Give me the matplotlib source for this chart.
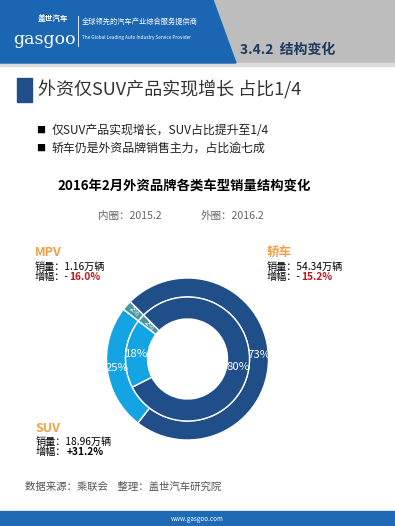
import matplotlib
matplotlib.use("Agg")
import matplotlib.pyplot as plt
from matplotlib.patches import Rectangle, Polygon

plt.rcParams['font.family'] = ['Noto Sans CJK SC', 'DejaVu Sans']

# 数据
categories = ['轿车', 'SUV', 'MPV']
share_2016 = [73, 25, 2]      # 外圈
share_2015 = [80, 18, 2]      # 内圈
sales_2016 = [54.34, 18.96, 1.16]
growth = [-15.2, 31.2, -16.0]
bullets = ['仅SUV产品实现增长，SUV占比提升至1/4', '轿车仍是外资品牌销售主力，占比逾七成']

colors = ['#1f4e89', '#14a3e3', '#4b96a6']

W, H = 395, 526
fig = plt.figure(figsize=(W / 100, H / 100), dpi=100)
bg = fig.add_axes([0, 0, 1, 1])
bg.set_xlim(0, W)
bg.set_ylim(H, 0)
bg.axis('off')

# 页眉
bg.add_patch(Rectangle((0, 0), W, 63, color='#bdbdbd', zorder=0))
bg.add_patch(Polygon([(0, 0), (213, 0), (236, 63), (0, 63)], closed=True, color='#1b66b3', zorder=1))
bg.add_patch(Rectangle((0, 63), W, 3, color='#dcdcdc', zorder=0))
bg.text(13, 40, 'gasgoo', color='white', fontsize=12.5, family='DejaVu Serif', va='center')
bg.text(38, 18, '盖世汽车', color='white', fontsize=5.5, fontweight='bold', va='center')
bg.plot([78, 78], [16, 46], color='white', lw=0.6)
bg.text(82, 22, '全球领先的汽车产业综合服务提供商', color='white', fontsize=5.2, va='center')
bg.text(82, 38, 'The Global Leading Auto Industry Service Provider', color='white', fontsize=3.4, va='center')
bg.text(240, 50, '3.4.2  结构变化', color='#1e3a5f', fontsize=10, fontweight='bold', va='center')

# 标题
bg.add_patch(Rectangle((17, 78), 15, 24, color='#1f4e89'))
bg.text(38, 90, '外资仅SUV产品实现增长 占比1/4', fontsize=13, color='#333333', va='center')

for i, b in enumerate(bullets):
    y = 130 + i * 18
    bg.text(36, y, '■', fontsize=6.5, va='center')
    bg.text(52, y, b, fontsize=8.6, color='#222222', va='center')

bg.text(184, 187, '2016年2月外资品牌各类车型销量结构变化', fontsize=9.6, fontweight='bold',
        ha='center', va='center')
bg.text(98, 216, '内圈：2015.2', fontsize=7.6, color='#666666', style='italic', va='center')
bg.text(201, 216, '外圈：2016.2', fontsize=7.6, color='#666666', style='italic', va='center')

# 环形图
cx, cy, R = 187.5, 359, 81
half = 95
pie_ax = fig.add_axes([(cx - half) / W, 1 - (cy + half) / H, 2 * half / W, 2 * half / H])
w_out, t_out, a_out = pie_ax.pie(share_2016, radius=R, colors=colors, startangle=135, counterclock=False,
                                 autopct=lambda p: f'{p:.0f}%', pctdistance=0.88,
                                 wedgeprops=dict(width=19, edgecolor='white', linewidth=1))
w_in, t_in, a_in = pie_ax.pie(share_2015, radius=62, colors=colors, startangle=135, counterclock=False,
                              autopct=lambda p: f'{p:.0f}%', pctdistance=0.82,
                              wedgeprops=dict(width=22, edgecolor='white', linewidth=1))
for t in a_out + a_in:
    t.set_color('white')
    t.set_fontsize(8.2)
for t in (a_out[2], a_in[2]):
    t.set_fontsize(5.5)
    t.set_rotation(-45)
pie_ax.set_xlim(-half, half)
pie_ax.set_ylim(-half, half)
pie_ax.axis('off')

# 各车型注释
label_pos = {'MPV': (35, 253), '轿车': (267, 253), 'SUV': (36, 428)}
for name, s, g in zip(categories, sales_2016, growth):
    x, y = label_pos[name]
    bg.text(x, y, name, fontsize=9, fontweight='bold', color='#f0a048', va='center')
    bg.text(x, y + 14, f'销量：{s:.2f}万辆', fontsize=7.3, va='center')
    if g < 0:
        t1 = bg.text(x, y + 27, '增幅：-', fontsize=7.3, va='baseline')
        bg.annotate(f'{abs(g):.1f}%', xy=(1, 0), xycoords=t1, va='bottom',
                    fontsize=7.3, fontweight='bold', color='#c0141c')
    else:
        t1 = bg.text(x, y + 27, '增幅：', fontsize=7.3, va='baseline')
        bg.annotate(f'+{g:.1f}%', xy=(1, 0), xycoords=t1, va='bottom',
                    fontsize=7.3, fontweight='bold', color='black')

bg.text(25, 487, '数据来源：乘联会    整理：盖世汽车研究院', fontsize=7.5, color='#555555',
        style='italic', va='center')

# 页脚
bg.add_patch(Rectangle((0, 511), W, 15, color='#1f6ab5'))
bg.text(197, 519, 'www.gasgoo.com', fontsize=4.5, color='white', ha='center', va='center')

fig.savefig('out.png', dpi=100)
